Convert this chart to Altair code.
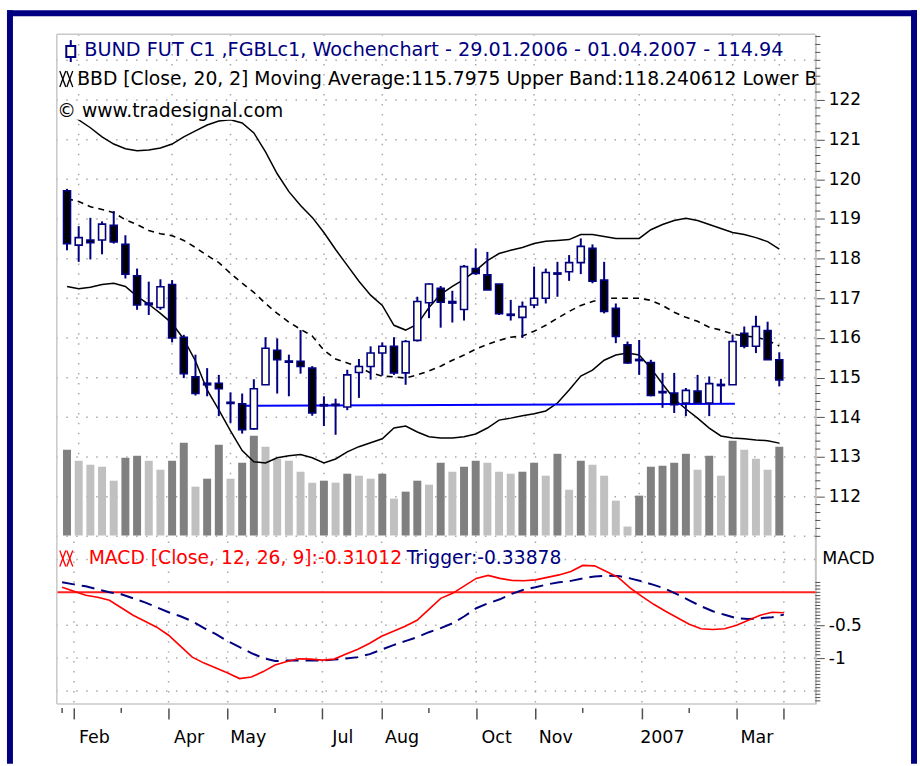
import altair as alt
import pandas as pd

# ---------------- data (weekly bars 29.01.2006 .. 01.04.2007) ----------------
week = list(range(62))
open_ = [119.71, 118.34, 118.47, 118.47, 118.84, 118.36, 117.57, 116.88, 116.77, 117.35,
         116.02, 115.02, 114.86, 114.86, 114.38, 114.34, 113.71, 114.82, 115.69, 115.42,
         115.41, 115.24, 114.32, 114.33, 114.26, 115.13, 115.28, 115.62, 115.79, 115.12,
         115.94, 116.89, 117.25, 116.92, 116.72, 117.75, 117.59, 117.36, 116.60, 116.52,
         116.83, 117.00, 117.64, 117.67, 117.90, 118.26, 117.46, 116.75, 115.83, 115.46,
         115.38, 114.65, 114.61, 114.36, 114.66, 114.36, 114.80, 114.82, 116.12, 115.79,
         116.19, 115.45]
high = [119.76, 118.82, 119.03, 118.94, 119.20, 118.59, 117.75, 117.42, 117.48, 117.46,
        116.08, 115.58, 115.24, 115.07, 114.63, 114.60, 114.96, 116.02, 115.99, 115.58,
        116.20, 115.29, 114.53, 114.47, 115.20, 115.47, 115.79, 115.89, 116.02, 115.95,
        117.04, 117.38, 117.31, 117.19, 117.84, 118.26, 118.17, 117.36, 116.96, 116.92,
        117.80, 117.75, 117.92, 118.09, 118.51, 118.36, 117.92, 116.87, 115.91, 115.95,
        115.45, 115.12, 115.12, 114.74, 115.07, 115.03, 114.97, 116.08, 116.29, 116.56,
        116.41, 115.64]
low = [118.21, 117.92, 117.98, 118.11, 118.38, 117.50, 116.71, 116.58, 116.71, 115.89,
       114.99, 114.55, 114.53, 114.03, 113.86, 113.59, 113.69, 114.82, 114.60, 114.53,
       115.10, 114.04, 113.78, 113.56, 114.18, 114.49, 114.95, 115.05, 115.07, 114.82,
       115.91, 116.50, 116.26, 116.39, 116.44, 117.59, 117.21, 116.58, 116.44, 116.00,
       116.75, 116.87, 117.04, 117.44, 117.61, 117.38, 116.62, 115.87, 115.35, 115.07,
       114.53, 114.24, 114.11, 114.03, 114.36, 114.03, 114.36, 114.82, 115.74, 115.62,
       115.45, 114.78]
close = [118.38, 118.53, 118.40, 118.87, 118.42, 117.61, 116.83, 116.84, 117.29, 116.00,
         115.10, 114.60, 114.82, 114.72, 114.35, 113.69, 114.72, 115.74, 115.45, 115.39,
         115.28, 114.11, 114.29, 114.30, 115.07, 115.28, 115.62, 115.79, 115.12, 115.91,
         116.92, 117.36, 116.90, 116.88, 117.80, 117.63, 117.21, 116.61, 116.57, 116.79,
         117.00, 117.65, 117.61, 117.90, 118.31, 117.43, 116.67, 116.04, 115.37, 115.43,
         114.55, 114.62, 114.32, 114.68, 114.36, 114.85, 114.83, 115.91, 115.79, 116.29,
         115.45, 114.94]
volume = [86, 75, 71, 69, 55, 78, 80, 75, 66, 75,
          93, 49, 57, 91, 57, 73, 100, 89, 77, 75,
          64, 53, 55, 53, 62, 60, 57, 62, 37, 44,
          55, 51, 73, 64, 69, 75, 73, 64, 62, 64,
          73, 60, 82, 46, 75, 71, 60, 35, 9, 40,
          69, 70, 73, 82, 66, 80, 60, 95, 86, 77,
          66, 89]
upper = [121.65, 121.50, 121.30, 121.07, 120.89, 120.77, 120.72, 120.74, 120.79, 120.89,
         121.07, 121.22, 121.37, 121.47, 121.50, 121.42, 121.17, 120.69, 120.14, 119.69,
         119.34, 119.04, 118.66, 118.23, 117.83, 117.43, 117.08, 116.82, 116.32, 116.20,
         116.35, 116.77, 117.10, 117.30, 117.48, 117.70, 117.95, 118.13, 118.21, 118.28,
         118.38, 118.44, 118.46, 118.48, 118.61, 118.61, 118.56, 118.51, 118.51, 118.51,
         118.73, 118.86, 118.96, 119.02, 118.96, 118.86, 118.76, 118.66, 118.61, 118.53,
         118.43, 118.24]
ma = [119.51, 119.44, 119.31, 119.24, 119.16, 118.98, 118.86, 118.71, 118.63, 118.58,
      118.46, 118.28, 118.08, 117.90, 117.63, 117.38, 117.15, 116.87, 116.62, 116.40,
      116.22, 116.05, 115.69, 115.47, 115.37, 115.27, 115.12, 115.04, 115.02, 114.99,
      115.07, 115.17, 115.29, 115.44, 115.57, 115.72, 115.84, 115.94, 116.02, 116.05,
      116.17, 116.32, 116.50, 116.67, 116.82, 116.92, 117.00, 117.00, 117.00, 117.00,
      116.95, 116.82, 116.65, 116.52, 116.42, 116.27, 116.20, 116.10, 116.05, 116.02,
      115.94, 115.80]
lower = [117.30, 117.24, 117.28, 117.35, 117.38, 117.30, 117.05, 116.85, 116.62, 116.37,
         115.97, 115.42, 114.69, 114.19, 113.66, 113.16, 112.88, 112.85, 112.98, 113.03,
         113.06, 112.98, 112.85, 112.95, 113.13, 113.26, 113.36, 113.46, 113.73, 113.78,
         113.63, 113.51, 113.48, 113.48, 113.51, 113.58, 113.73, 113.93, 113.98, 114.04,
         114.09, 114.16, 114.36, 114.69, 115.04, 115.19, 115.44, 115.57, 115.62, 115.57,
         115.24, 114.84, 114.46, 114.21, 113.98, 113.73, 113.53, 113.48, 113.46, 113.43,
         113.41, 113.35]
macd = [0.076, 0.015, -0.045, -0.076, -0.121, -0.235, -0.348, -0.439, -0.530, -0.652,
        -0.818, -0.985, -1.076, -1.152, -1.227, -1.311, -1.288, -1.205, -1.106, -1.053,
        -1.011, -1.015, -1.030, -1.015, -0.939, -0.864, -0.773, -0.667, -0.591, -0.515,
        -0.424, -0.258, -0.091, -0.015, 0.098, 0.212, 0.258, 0.212, 0.182, 0.177,
        0.189, 0.227, 0.265, 0.318, 0.409, 0.402, 0.318, 0.227, 0.068, -0.061,
        -0.182, -0.288, -0.386, -0.485, -0.553, -0.565, -0.553, -0.500, -0.424, -0.348,
        -0.303, -0.310]
trigger = [0.152, 0.121, 0.091, 0.045, 0.0, -0.030, -0.091, -0.152, -0.227, -0.303,
           -0.364, -0.439, -0.545, -0.636, -0.742, -0.833, -0.924, -1.000, -1.045, -1.038,
           -1.035, -1.035, -1.035, -1.023, -1.005, -0.985, -0.939, -0.871, -0.803, -0.742,
           -0.682, -0.606, -0.545, -0.470, -0.364, -0.242, -0.167, -0.106, -0.023, 0.038,
           0.076, 0.121, 0.152, 0.174, 0.212, 0.242, 0.253, 0.250, 0.212, 0.167,
           0.114, 0.053, -0.030, -0.121, -0.212, -0.288, -0.341, -0.394, -0.405, -0.394,
           -0.379, -0.339]
trend_i = [15, 57.2]
trend_p = [114.29, 114.34]
macd_zero = [0.0]

month_major = [1, 9, 14, 22, 27, 35, 40, 49, 57, 61]
month_major_labels = ["Feb", "Apr", "May", "Jul", "Aug", "Oct", "Nov", "2007", "Mar", ""]
month_minor = [0, 5, 18, 31, 44, 53]
price_labels = [112, 113, 114, 115, 116, 117, 118, 119, 120, 121, 122]
price_grid = [111, 112, 113, 114, 115, 116, 117, 118, 119, 120, 121, 122, 123]
macd_labels = [-1.0, -0.5]
macd_grid = [0.5, -0.5, -1.0, -1.5]

title1 = "BUND FUT C1 ,FGBLc1, Wochenchart - 29.01.2006 - 01.04.2007 - 114.94"
title2 = "BBD [Close, 20, 2] Moving Average:115.7975 Upper Band:118.240612 Lower B"
title3 = "\u00a9 www.tradesignal.com"
macd_title = "MACD [Close, 12, 26, 9]:-0.31012"
trig_title = "Trigger:-0.33878"

# ---------------- layout / style ----------------
W, H1, H2 = 761, 509, 163
NAVY = "#000080"
GRID = "#a8a8a8"
FONT = "DejaVu Sans"
DOT = [1.5, 8.5]

df = pd.DataFrame({"i": week, "open": open_, "high": high, "low": low, "close": close,
                   "vol": volume, "upper": upper, "ma": ma, "lower": lower,
                   "macd": macd, "trigger": trigger})
df["dir"] = ["rise" if c >= o else "fall" for o, c in zip(open_, close)]
df["shade"] = ["more"] + ["more" if volume[k] > volume[k - 1] else "less" for k in range(1, len(volume))]

xs = alt.Scale(domain=[-0.447, 63.66], nice=False, zero=False)
ps = alt.Scale(domain=[110.87, 123.66], nice=False, zero=False)
vs = alt.Scale(domain=[-6, 503], nice=False, zero=False)
ms = alt.Scale(domain=[-1.697, 0.773], nice=False, zero=False)

one = pd.DataFrame({"a": [0]})


def X(field="i"):
    return alt.X(f"{field}:Q", scale=xs, axis=None)


def PY(field):
    return alt.Y(f"{field}:Q", scale=ps, axis=None)


def label(text, x, y, color="black", size=19.3, font=FONT, clip=False):
    mk = dict(align="left", baseline="alphabetic", font=font, fontSize=size, color=color)
    if clip:
        mk["clip"] = True
    return alt.Chart(pd.DataFrame({"t": [text]})).mark_text(**mk).encode(
        x=alt.value(x), y=alt.value(y), text="t:N")


def seg(x, x2, y, y2, color, w):
    return alt.Chart(one).mark_rule(color=color, strokeWidth=w).encode(
        x=alt.value(x), x2=alt.value(x2), y=alt.value(y), y2=alt.value(y2))


def vline(x, y, y2, color, w):
    return alt.Chart(one).mark_rule(color=color, strokeWidth=w).encode(
        x=alt.value(x), y=alt.value(y), y2=alt.value(y2))


def hline(x, x2, y, color, w):
    return alt.Chart(one).mark_rule(color=color, strokeWidth=w).encode(
        x=alt.value(x), x2=alt.value(x2), y=alt.value(y))


def box(x, x2, y, y2, fill):
    return alt.Chart(one).mark_rect(fill=fill).encode(
        x=alt.value(x), x2=alt.value(x2), y=alt.value(y), y2=alt.value(y2))


def xx_icon(x0, y0, color):
    # two small crosses, the indicator symbol
    out = []
    for dx in (0, 7):
        out.append(seg(x0 + dx, x0 + dx + 6, y0, y0 + 16, color, 1.3))
        out.append(seg(x0 + dx + 6, x0 + dx, y0, y0 + 16, color, 1.3))
    return out


# ---------------- price panel ----------------
price_axis = alt.Axis(orient="right", values=price_labels, title=None, grid=False,
                      tickSize=9, tickColor="#505050", tickWidth=1,
                      domainColor="#c4c4c4", domainWidth=2,
                      labelFont=FONT, labelFontSize=17, labelColor="black",
                      labelPadding=4, labelOverlap=False, labelBound=False, format="d")

price_minor = [round(111 + 0.2 * k, 1) for k in range(64)]
price_minor = [v for v in price_minor if v not in price_labels]

hgrid_top = alt.Chart(pd.DataFrame({"p": price_grid})).mark_rule(
    color=GRID, strokeWidth=1.5, strokeDash=DOT).encode(
    y=alt.Y("p:Q", scale=ps, axis=price_axis))
vgrid_top = alt.Chart(pd.DataFrame({"m": month_major})).mark_rule(
    color=GRID, strokeWidth=1.5, strokeDash=DOT).encode(x=X("m"))
minor_top = alt.Chart(pd.DataFrame({"p": price_minor})).mark_rule(
    color="#505050", strokeWidth=1).encode(
    y=PY("p"), x=alt.value(W), x2=alt.value(W + 5))

vol_bars = alt.Chart(df).mark_bar(size=8).encode(
    x=X(), y=alt.Y("vol:Q", scale=vs, axis=None), y2=alt.datum(0),
    color=alt.Color("shade:N", scale=alt.Scale(domain=["more", "less"], range=["#808080", "#c0c0c0"]),
                    legend=None))

band_up = alt.Chart(df).mark_line(color="black", strokeWidth=1.5).encode(x=X(), y=PY("upper"))
band_lo = alt.Chart(df).mark_line(color="black", strokeWidth=1.5).encode(x=X(), y=PY("lower"))
band_ma = alt.Chart(df).mark_line(color="black", strokeWidth=1.6, strokeDash=[6, 5]).encode(
    x=X(), y=PY("ma"))
trend = alt.Chart(pd.DataFrame({"i": trend_i, "p": trend_p})).mark_line(
    color="#0000ff", strokeWidth=2).encode(x=X(), y=PY("p"))
wicks = alt.Chart(df).mark_rule(color=NAVY, strokeWidth=2).encode(
    x=X(), y=PY("low"), y2="high:Q")
bodies = alt.Chart(df).mark_bar(size=7, stroke=NAVY, strokeWidth=1.6).encode(
    x=X(), y=PY("open"), y2="close:Q",
    color=alt.Color("dir:N", scale=alt.Scale(domain=["rise", "fall"], range=["#fffff0", "#000000"]),
                    legend=None))

icon_wick = vline(14, 6, 28, NAVY, 2)
icon_body = alt.Chart(one).mark_rect(fill="#fffff0", stroke=NAVY, strokeWidth=2).encode(
    x=alt.value(9.5), x2=alt.value(18.5), y=alt.value(12), y2=alt.value(23))

top = alt.layer(
    vgrid_top, hgrid_top, vol_bars, band_up, band_lo, band_ma, trend, wicks, bodies, minor_top,
    vline(0, 0, H1, "#c8c8c8", 1.5), hline(0, W, 0, "#c8c8c8", 1.5),
    box(2, 232, 68, 86, "white"),
    icon_wick, icon_body,
    label(title1, 27.5, 22, color=NAVY),
    *xx_icon(3, 37, "black"),
    label(title2, 20.5, 51, size=18.8, clip=True),
    label(title3, 0.5, 83, size=18.8),
    # outer frame
    vline(-47, -24, 732, NAVY, 6), hline(-50, 863, -21, NAVY, 6), vline(860, -24, 732, NAVY, 6),
).resolve_scale(y="independent", color="independent").properties(width=W, height=H1)

# ---------------- MACD panel ----------------
lab_expr = " : ".join(f"datum.value == {v} ? '{t}'" for v, t in zip(month_major, month_major_labels)) + " : ''"
x_axis = alt.Axis(values=month_major, labelExpr=lab_expr, title=None, domain=False, grid=False,
                  tickSize=11, tickColor="#505050", tickWidth=1.5, offset=4,
                  labelAlign="center", labelOffset=20, labelPadding=10,
                  labelFont=FONT, labelFontSize=17.5, labelColor="black",
                  labelFlush=False, labelOverlap=False, labelBound=False)
macd_axis = alt.Axis(orient="right", values=macd_labels, title=None, grid=False,
                     tickSize=9, tickColor="#505050", tickWidth=1,
                     domainColor="#c4c4c4", domainWidth=2,
                     labelExpr="datum.value < -0.75 ? '-1' : '-0.5'",
                     labelFont=FONT, labelFontSize=17, labelColor="black",
                     labelPadding=4, labelOverlap=False, labelBound=False)
macd_minor = [round(-1.65 + 0.05 * k, 2) for k in range(37)]
macd_minor = [v for v in macd_minor if v not in macd_labels]


def BX(field="i"):
    return alt.X(f"{field}:Q", scale=xs, axis=x_axis)


def BY(field):
    return alt.Y(f"{field}:Q", scale=ms, axis=macd_axis)


vgrid_bot = alt.Chart(pd.DataFrame({"m": month_major})).mark_rule(
    color=GRID, strokeWidth=1.5, strokeDash=DOT).encode(x=BX("m"))
hgrid_bot = alt.Chart(pd.DataFrame({"v": macd_grid})).mark_rule(
    color=GRID, strokeWidth=1.5, strokeDash=DOT).encode(y=BY("v"))
minor_x = alt.Chart(pd.DataFrame({"m": month_minor})).mark_rule(
    color="#505050", strokeWidth=1.5).encode(x=BX("m"), y=alt.value(H2 + 4), y2=alt.value(H2 + 9))
minor_bot = alt.Chart(pd.DataFrame({"v": macd_minor})).mark_rule(
    color="#505050", strokeWidth=1).encode(y=BY("v"), x=alt.value(W), x2=alt.value(W + 5))
zero_line = alt.Chart(pd.DataFrame({"v": macd_zero})).mark_rule(
    color="#ff2020", strokeWidth=2).encode(y=BY("v"))
trig_line = alt.Chart(df).mark_line(color=NAVY, strokeWidth=2, strokeDash=[13, 7]).encode(
    x=BX(), y=BY("trigger"))
macd_line = alt.Chart(df).mark_line(color="#ff0000", strokeWidth=1.6).encode(
    x=BX(), y=BY("macd"))

bottom = alt.layer(
    vgrid_bot, hgrid_bot, zero_line, trig_line, macd_line, minor_x, minor_bot,
    vline(0, 0, H2, "#c8c8c8", 1.5), hline(0, W, H2, "#c8c8c8", 1.5),
    *xx_icon(3, 9, "#ff0000"),
    label(macd_title, 32, 23, color="#ff0000", size=18.8),
    label(trig_title, 351, 23, color=NAVY, size=18.8),
    label("MACD", 768, 23, size=17.5),
).properties(width=W, height=H2)

chart = alt.vconcat(top, bottom, spacing=0, bounds="flush").properties(
    padding={"left": 4, "top": 6, "right": 0, "bottom": 0},
    background="white",
).configure_view(stroke=None)

chart.save("out.html", embed_options={"renderer": "svg", "actions": False})
